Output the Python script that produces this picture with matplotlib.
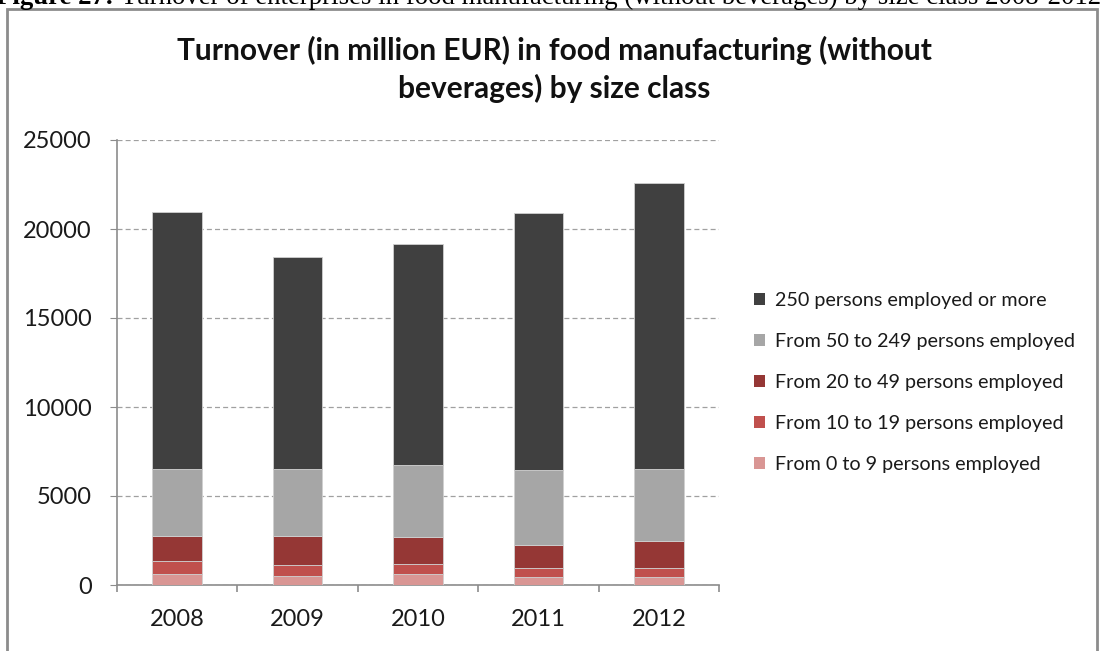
#!/usr/bin/env python3
"""Stacked bars: food manufacturing turnover by enterprise size class, 2008-2012."""

import matplotlib
matplotlib.use('Agg')
import matplotlib.pyplot as plt
from matplotlib.patches import Rectangle, Patch
import numpy as np

plt.rcParams['font.family'] = ['Lato', 'DejaVu Sans']

# Turnover in million EUR, per size class (bottom to top of the stack)
years = ['2008', '2009', '2010', '2011', '2012']
size_classes = [
    'From 0 to 9 persons employed',
    'From 10 to 19 persons employed',
    'From 20 to 49 persons employed',
    'From 50 to 249 persons employed',
    '250 persons employed or more',
]
emp_0_9 = [600, 525, 600, 450, 450]
emp_10_19 = [730, 580, 580, 525, 525]
emp_20_49 = [1440, 1665, 1520, 1295, 1500]
emp_50_249 = [3730, 3730, 4025, 4165, 4025]
emp_250_plus = [14450, 11910, 12415, 14445, 16100]

series = [emp_0_9, emp_10_19, emp_20_49, emp_50_249, emp_250_plus]
colors = ['#d99694', '#c0504d', '#953735', '#a6a6a6', '#404040']

fig = plt.figure(figsize=(11, 6.51), dpi=100)
W, H = 1100, 651

# Document caption above the chart, cut off by the top edge
cap_bold = fig.text(-4 / W, 1 - 4 / H, 'Figure 27: ', fontsize=19.3, fontweight='bold',
                    family='Liberation Serif', ha='left', va='baseline')
renderer = fig.canvas.get_renderer()
bb = cap_bold.get_window_extent(renderer)
fig.text(bb.x1 / W, 1 - 4 / H,
         'Turnover of enterprises in food manufacturing (without beverages) by size class 2008-2012',
         fontsize=19.3, family='Liberation Serif', ha='left', va='baseline')

# Chart frame
fig.patches.append(Rectangle((7 / W, -0.1), 1090 / W, 1.1 - 9 / H, transform=fig.transFigure,
                             fill=True, facecolor='white', edgecolor='#8c8c8c', linewidth=2,
                             zorder=-1))

ax = fig.add_axes([116.7 / W, 66 / H, 602.6 / W, 445 / H])
ax.set_facecolor('none')

x = np.arange(len(years))
bottom = np.zeros(len(years))
for vals, col, name in zip(series, colors, size_classes):
    ax.bar(x, vals, width=0.41, bottom=bottom, color=col, edgecolor='#d0d0d0',
           linewidth=0.6, label=name, zorder=3)
    bottom += np.array(vals)

ax.set_xlim(-0.5, len(years) - 0.5)
ax.set_ylim(0, 25000)
ax.set_yticks(range(0, 25001, 5000))
ax.set_xticks(x)
ax.set_xticklabels(years)
ax.set_xticks(np.arange(-0.5, len(years)), minor=True)

ax.grid(axis='y', linestyle=(0, (4, 2.5)), color='#a0a0a0', linewidth=0.9, zorder=0)
for s in ['top', 'right']:
    ax.spines[s].set_visible(False)
for s in ['left', 'bottom']:
    ax.spines[s].set_color('#8c8c8c')
    ax.spines[s].set_linewidth(1.2)

ax.tick_params(axis='y', length=5, color='#8c8c8c', labelsize=17, labelcolor='#1a1a1a', pad=13)
ax.tick_params(axis='x', which='major', length=0, labelsize=17, labelcolor='#1a1a1a', pad=17)
ax.tick_params(axis='x', which='minor', length=5, color='#8c8c8c', width=1.2)

fig.text(554 / W, 1 - 50 / H, 'Turnover (in million EUR) in food manufacturing (without',
         fontsize=21.5, fontweight='bold', ha='center', va='center', color='#111111')
fig.text(554 / W, 1 - 88 / H, 'beverages) by size class',
         fontsize=21.5, fontweight='bold', ha='center', va='center', color='#111111')

handles = [Patch(facecolor=c, edgecolor='none') for c in colors[::-1]]
fig.legend(handles, size_classes[::-1], loc='upper left',
           bbox_to_anchor=(736 / W, 1 - 274 / H), frameon=False, fontsize=14.2,
           handlelength=0.55, handleheight=0.55, handletextpad=0.55, labelspacing=1.22,
           labelcolor='#1a1a1a')

fig.savefig('out.png', dpi=100, facecolor='white')
